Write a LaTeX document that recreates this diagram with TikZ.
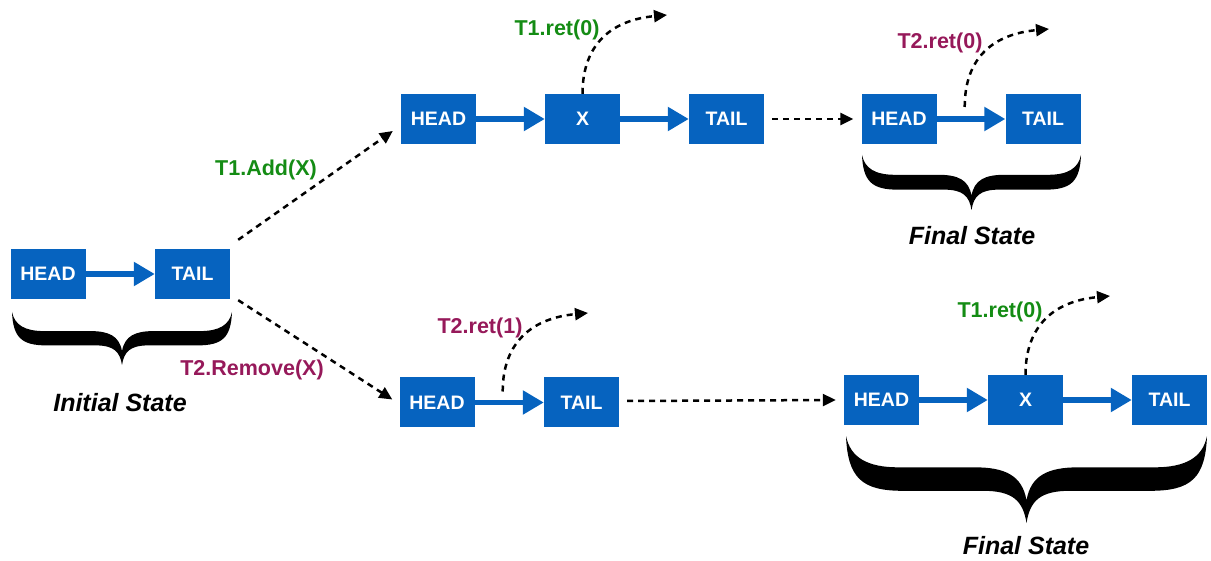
\documentclass[tikz,border=0pt]{standalone}
\usepackage{fontspec}
\setmainfont{Liberation Sans}
\usetikzlibrary{arrows.meta}
\definecolor{nodeblue}{RGB}{6,99,191}
\definecolor{tgreen}{RGB}{20,140,20}
\definecolor{tpurple}{RGB}{150,25,90}
\tikzset{
  cell/.style={fill=nodeblue, draw=none, minimum width=75pt, minimum height=50pt,
    inner sep=0pt, text=white, font=\bfseries\fontsize{19.5}{19.5}\selectfont},
  link/.style={nodeblue, line width=5.5pt, -{Triangle[length=21pt,width=23pt]}, shorten <=-1pt},
  flow/.style={black, line width=2.5pt, dash pattern=on 6pt off 5pt,
    -{Triangle[length=13pt,width=12pt]}},
  lbl/.style={font=\bfseries\fontsize{21.5}{21.5}\selectfont, inner sep=0pt},
  state/.style={font=\bfseries\itshape\fontsize{25}{25}\selectfont, inner sep=0pt},
}
% filled curly brace: left x, right x, top y, depth (y grows downward)
\newcommand\statebrace[4]{%
  \pgfmathsetmacro\bw{#2-#1}%
  \pgfmathsetmacro\bh{#4}%
  \pgfmathsetmacro\bm{\bw/2}%
  \begin{scope}[shift={(#1,#3)}]
  \fill (0,0)
    .. controls ({0.02*\bh},{0.48*\bh}) and ({0.18*\bh},{0.63*\bh}) .. ({0.65*\bh},{0.63*\bh})
    -- ({\bm-0.5*\bh},{0.63*\bh})
    .. controls ({\bm-0.15*\bh},{0.63*\bh}) and ({\bm-0.04*\bh},{0.75*\bh}) .. (\bm,\bh)
    .. controls ({\bm+0.04*\bh},{0.75*\bh}) and ({\bm+0.15*\bh},{0.63*\bh}) .. ({\bm+0.5*\bh},{0.63*\bh})
    -- ({\bw-0.65*\bh},{0.63*\bh})
    .. controls ({\bw-0.18*\bh},{0.63*\bh}) and ({\bw-0.02*\bh},{0.48*\bh}) .. (\bw,0)
    .. controls ({\bw-0.05*\bh},{0.25*\bh}) and ({\bw-0.25*\bh},{0.36*\bh}) .. ({\bw-0.6*\bh},{0.36*\bh})
    -- ({\bm+0.6*\bh},{0.36*\bh})
    .. controls ({\bm+0.25*\bh},{0.36*\bh}) and ({\bm+0.05*\bh},{0.45*\bh}) .. (\bm,{0.74*\bh})
    .. controls ({\bm-0.05*\bh},{0.45*\bh}) and ({\bm-0.25*\bh},{0.36*\bh}) .. ({\bm-0.6*\bh},{0.36*\bh})
    -- ({0.6*\bh},{0.36*\bh})
    .. controls ({0.25*\bh},{0.36*\bh}) and ({0.05*\bh},{0.25*\bh}) .. (0,0)
    -- cycle;
  \end{scope}}
\begin{document}
\begin{tikzpicture}[x=1pt, y=-1pt]
\useasboundingbox (0,0) rectangle (1211,561);

% initial list
\node[cell] (iH) at (48,274) {HEAD};
\node[cell] (iT) at (192.5,274) {TAIL};
\draw[link] (iH) -- (iT);
\statebrace{12}{232}{312}{53}
\node[state] (istate) at (120,403) {Initial State};

% after T1.Add(X)
\node[cell] (aH) at (438.5,119) {HEAD};
\node[cell] (aX) at (582.5,119) {X};
\node[cell] (aT) at (726.5,119) {TAIL};
\draw[link] (aH) -- (aX);
\draw[link] (aX) -- (aT);

% final state, upper branch
\node[cell] (fH1) at (899,119) {HEAD};
\node[cell] (fT1) at (1043,119) {TAIL};
\draw[link] (fH1) -- (fT1);
\statebrace{862}{1081}{155}{55}
\node[state] (fstate1) at (972,236) {Final State};

% after T2.Remove(X)
\node[cell] (rH) at (437,402.5) {HEAD};
\node[cell] (rT) at (581.5,402.5) {TAIL};
\draw[link] (rH) -- (rT);

% final state, lower branch
\node[cell] (fH2) at (881.5,400) {HEAD};
\node[cell] (fX2) at (1025.5,400) {X};
\node[cell] (fT2) at (1169.5,400) {TAIL};
\draw[link] (fH2) -- (fX2);
\draw[link] (fX2) -- (fT2);
\statebrace{846}{1207}{436}{87}
\node[state] (fstate2) at (1026,546) {Final State};

% transitions
\draw[flow] ([shift={(8,-9)}]iT.north east) -- ([shift={(-8,12)}]aH.west);
\draw[flow] ([shift={(8,1)}]iT.south east) -- ([shift={(-7,-3)}]rH.west);
\draw[flow] ([xshift=8pt]aT.east) -- ([xshift=-8pt]fH1.west);
\draw[flow] ([shift={(8,-1.5)}]rT.east) -- ([xshift=-8pt]fH2.west);

\node[lbl, text=tgreen] (add) at (266,170) {T1.Add(X)};
\node[lbl, text=tpurple] (rem) at (252,370) {T2.Remove(X)};

% return values
\coordinate (r1) at (667,15);
\coordinate (r2) at (1049,29);
\coordinate (r3) at (588,313);
\coordinate (r4) at (1110,296);
\coordinate (s2) at ([shift={(28,-12)}]fH1.east);
\coordinate (s3) at ([shift={(28,-11)}]rH.east);
\draw[flow] (aX.north) .. controls +(0,-50) and +(-55,5) .. (r1);
\draw[flow] (s2) .. controls +(0,-50) and +(-55,5) .. (r2);
\draw[flow] (s3) .. controls +(0,-50) and +(-55,5) .. (r3);
\draw[flow] (fX2.north) .. controls +(0,-50) and +(-55,5) .. (r4);

\node[lbl, text=tgreen] (ret1) at (557,30) {T1.ret(0)};
\node[lbl, text=tpurple] (ret2) at (940,43) {T2.ret(0)};
\node[lbl, text=tpurple] (ret3) at (480,328) {T2.ret(1)};
\node[lbl, text=tgreen] (ret4) at (1000,312) {T1.ret(0)};
\end{tikzpicture}
\end{document}
